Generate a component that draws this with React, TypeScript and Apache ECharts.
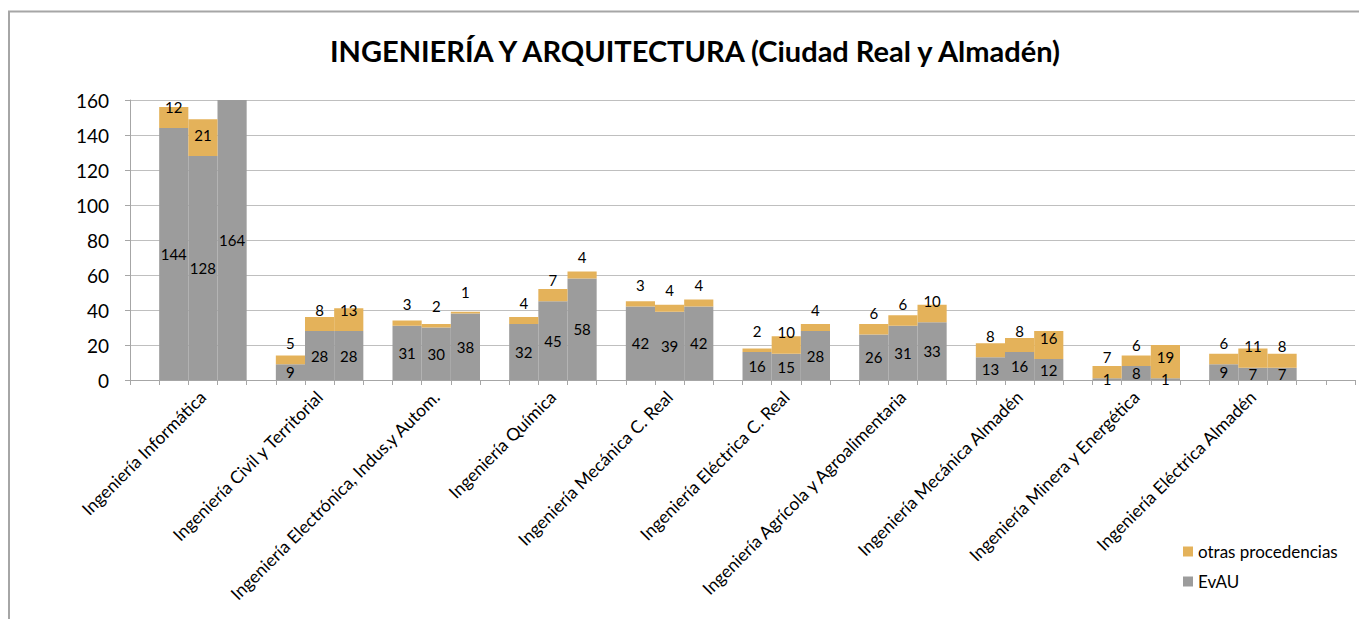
import React, { useEffect, useRef } from "react";
import * as echarts from "echarts";

// Degree groups (category labels)
const groups = [
  "Ingeniería Informática",
  "Ingeniería Civil y Territorial",
  "Ingeniería Electrónica, Indus.y Autom.",
  "Ingeniería Química",
  "Ingeniería Mecánica C. Real",
  "Ingeniería Eléctrica C. Real",
  "Ingeniería Agrícola y Agroalimentaria",
  "Ingeniería Mecánica Almadén",
  "Ingeniería Minera y Energética",
  "Ingeniería Eléctrica Almadén",
];

// EvAU students, three bars per degree
const evau: number[][] = [
  [144, 128, 164],
  [9, 28, 28],
  [31, 30, 38],
  [32, 45, 58],
  [42, 39, 42],
  [16, 15, 28],
  [26, 31, 33],
  [13, 16, 12],
  [1, 8, 1],
  [9, 7, 7],
];

// Students from other origins (third Informática value lies above the axis max, not visible)
const otras: (number | null)[][] = [
  [12, 21, null],
  [5, 8, 13],
  [3, 2, 1],
  [4, 7, 4],
  [3, 4, 4],
  [2, 10, 4],
  [6, 6, 10],
  [8, 8, 16],
  [7, 6, 19],
  [6, 11, 8],
];

const yTicks = { min: 0, max: 160, interval: 20 };

const GOLD = "#E4B25A";
const GREY = "#9C9C9C";
const FONT = "Lato, 'Open Sans', sans-serif";

// Build slot-based category axis: empty slot, 3 bars, empty slot ... plus trailing empties
function buildSlots() {
  const cats: string[] = [];
  const ev: any[] = [];
  const ot: any[] = [];
  cats.push("");
  ev.push("-");
  ot.push("-");
  groups.forEach((g, gi) => {
    for (let k = 0; k < 3; k++) {
      cats.push(k === 1 ? g : "");
      ev.push(evau[gi][k]);
      const v = otras[gi][k];
      ot.push(v === null ? "-" : v);
    }
    cats.push("");
    ev.push("-");
    ot.push("-");
  });
  cats.push("");
  ev.push("-");
  ot.push("-");
  return { cats, ev, ot };
}

export default function App() {
  const ref = useRef<HTMLDivElement>(null);
  useEffect(() => {
    if (!ref.current) return;
    const chart = echarts.init(ref.current, undefined, { renderer: "svg" });
    const { cats, ev, ot } = buildSlots();
    chart.setOption({
      animation: false,
      textStyle: { fontFamily: FONT },
      title: {
        text: "INGENIERÍA Y ARQUITECTURA (Ciudad Real y Almadén)",
        left: 690,
        textAlign: "center",
        top: 31,
        textStyle: { fontFamily: FONT, fontSize: 29, fontWeight: "bold", color: "#000" },
      },
      graphic: [
        {
          type: "polyline",
          shape: { points: [[9, 619], [9, 11.5], [1359, 11.5]] },
          style: { stroke: "#A6A6A6", lineWidth: 2, fill: "none" },
        },
      ],
      legend: {
        orient: "vertical",
        left: 1178,
        top: 538,
        itemWidth: 10,
        itemHeight: 10,
        itemGap: 13,
        icon: "rect",
        data: ["otras procedencias", "EvAU"],
        textStyle: { fontFamily: FONT, fontSize: 17, color: "#000" },
      },
      grid: { left: 130, right: 4, top: 100, bottom: 239, containLabel: false },
      xAxis: {
        type: "category",
        data: cats,
        axisLine: { lineStyle: { color: "#A6A6A6", width: 1 } },
        axisTick: { show: true, interval: 0, length: 5, lineStyle: { color: "#A6A6A6" } },
        axisLabel: {
          interval: 0,
          rotate: 45,
          margin: 14,
          fontFamily: FONT,
          fontSize: 17.5,
          color: "#000",
        },
      },
      yAxis: {
        type: "value",
        min: yTicks.min,
        max: yTicks.max,
        interval: yTicks.interval,
        axisLine: { show: true, lineStyle: { color: "#A6A6A6", width: 1 } },
        axisTick: { show: true, length: 5, lineStyle: { color: "#A6A6A6" } },
        axisLabel: { margin: 21, fontFamily: FONT, fontSize: 19, color: "#000" },
        splitLine: { lineStyle: { color: "#BFBFBF", width: 1 } },
      },
      series: [
        {
          name: "EvAU",
          type: "bar",
          stack: "t",
          clip: true,
          barCategoryGap: "0%",
          data: ev,
          itemStyle: { color: GREY },
          label: {
            show: true,
            position: "inside",
            fontFamily: FONT,
            fontSize: 15,
            color: "#000",
          },
        },
        {
          name: "otras procedencias",
          type: "bar",
          stack: "t",
          clip: true,
          barCategoryGap: "0%",
          data: ot,
          itemStyle: { color: GOLD },
          label: {
            show: true,
            position: "insideBottom",
            distance: 14,
            fontFamily: FONT,
            fontSize: 15,
            color: "#000",
          },
        },
      ],
    });
    return () => chart.dispose();
  }, []);
  return (
    <div
      ref={ref}
      style={{ position: "absolute", left: 0, top: 0, width: 1359, height: 619 }}
    />
  );
}
